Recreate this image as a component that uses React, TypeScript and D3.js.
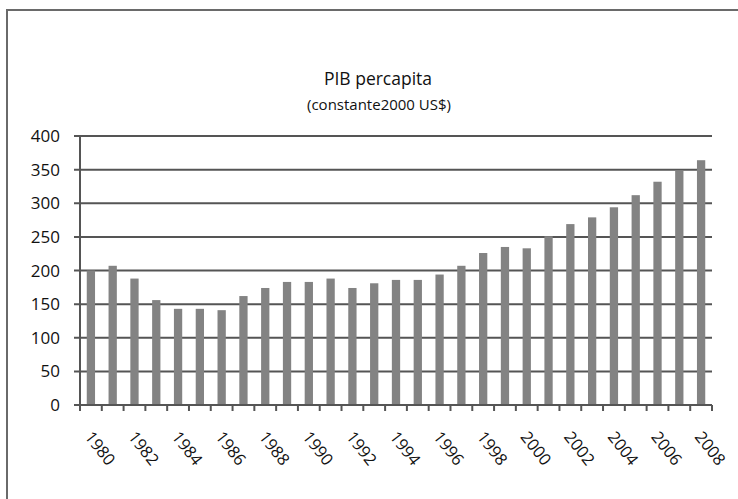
import React from "react";
import * as d3 from "d3";

const years: string[] = [
  "1980","1981","1982","1983","1984","1985","1986","1987","1988","1989",
  "1990","1991","1992","1993","1994","1995","1996","1997","1998","1999",
  "2000","2001","2002","2003","2004","2005","2006","2007","2008",
];
const values: number[] = [
  200, 207, 188, 156, 143, 143, 141, 162, 174, 183,
  183, 188, 174, 181, 186, 186, 194, 207, 226, 235,
  233, 251, 269, 279, 294, 312, 332, 348, 364,
];
const yTicks: number[] = [0, 50, 100, 150, 200, 250, 300, 350, 400];
const title = "PIB percapita";
const subtitle = "(constante2000 US$)";

const W = 738;
const H = 499;
const left = 80;
const right = 712;
const top = 136;
const bottom = 405;
const font = "'Open Sans', 'DejaVu Sans', sans-serif";
const gridColor = "#555555";
const barColor = "#838383";

export default function App() {
  const x = d3.scaleBand<string>().domain(years).range([left, right]).paddingInner(0.62).paddingOuter(0.31);
  const band = d3.scaleBand<string>().domain(years).range([left, right]).padding(0);
  const y = d3.scaleLinear().domain([0, 400]).range([bottom, top]);

  return (
    <div style={{ position: "fixed", left: 0, top: 0, width: W, height: H, background: "#fff" }}>
      <svg width={W} height={H} style={{ display: "block" }} fontFamily={font}>
        <rect x={0} y={0} width={W} height={H} fill="#fff" />
        <rect x={7} y={10} width={W + 10} height={H + 10} fill="none" stroke="#6a6a6a" strokeWidth={2} />
        <text x={378} y={85} textAnchor="middle" fontSize={17.5} fill="#111">{title}</text>
        <text x={379} y={110} textAnchor="middle" fontSize={15} fill="#111">{subtitle}</text>

        {yTicks.map((t) => (
          <g key={t}>
            <line x1={left - 6} x2={right} y1={y(t)} y2={y(t)} stroke={gridColor} strokeWidth={2} />
            <text x={60} y={y(t)} dy="0.36em" textAnchor="end" fontSize={17} fill="#111">{t}</text>
          </g>
        ))}

        {years.map((yr, i) => (
          <rect key={yr} x={x(yr)} y={y(values[i])} width={x.bandwidth()} height={y(0) - y(values[i])} fill={barColor} />
        ))}

        <line x1={left} x2={left} y1={top} y2={bottom} stroke={gridColor} strokeWidth={2} />
        <line x1={left - 6} x2={right} y1={bottom} y2={bottom} stroke={gridColor} strokeWidth={2} />
        {years.map((yr) => (
          <line key={"t" + yr} x1={(band(yr) as number)} x2={(band(yr) as number)} y1={bottom} y2={bottom + 6} stroke={gridColor} strokeWidth={2} />
        ))}
        <line x1={right} x2={right} y1={bottom} y2={bottom + 6} stroke={gridColor} strokeWidth={2} />

        {years.map((yr, i) =>
          i % 2 === 0 ? (
            <text
              key={"l" + yr}
              transform={`translate(${(band(yr) as number) + band.bandwidth() / 2 - 7},${bottom + 32}) rotate(52)`}
              fontSize={16.5}
              fill="#111"
            >
              {yr}
            </text>
          ) : null
        )}
      </svg>
    </div>
  );
}
